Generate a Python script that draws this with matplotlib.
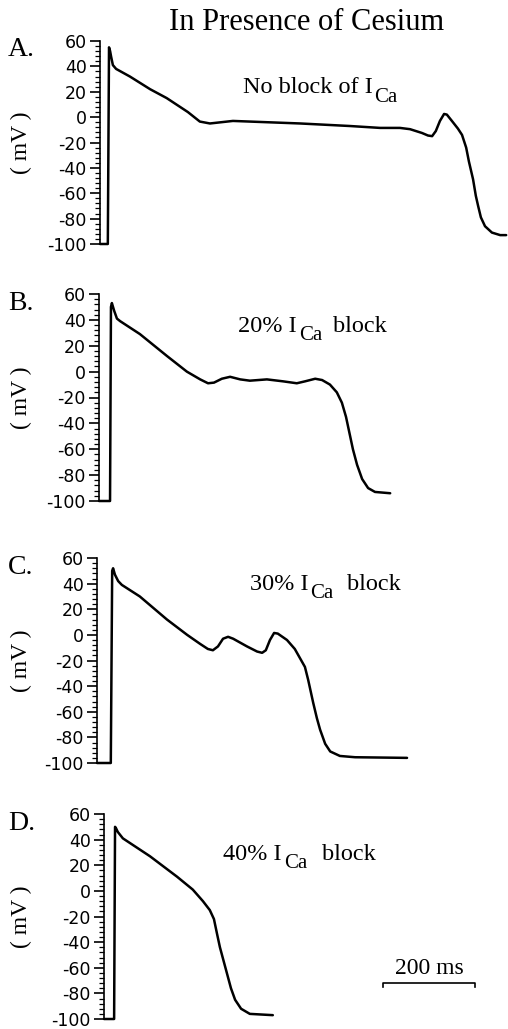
import matplotlib
matplotlib.use('Agg')
import matplotlib.pyplot as plt
from matplotlib.ticker import MultipleLocator

plt.rcParams['axes.unicode_minus'] = False

# Action potential traces (time in ms from the y axis, voltage in mV)
t_a = [0, 17, 19.6, 22, 24, 28, 35, 65, 109, 145, 191, 217, 239, 289, 435, 543, 609, 652, 674,
       700, 713, 722, 730, 739, 748, 754, 765, 778, 787, 796, 802, 811, 817, 822, 828, 837,
       852, 870, 883]
v_a = [-100, -100, 55, 52, 48, 41, 38, 32, 22, 15, 4, -3.5, -5, -3, -5, -7, -8.5, -8.5, -9.5,
       -12.5, -14.5, -15, -11, -3, 2.5, 2, -3, -9, -14, -24, -35, -49, -62, -70, -79, -86,
       -91, -93, -93]

t_b = [0, 24, 26, 28, 33, 39, 46, 89, 148, 191, 220, 237, 250, 267, 285, 307, 328, 365, 400,
       430, 448, 470, 485, 502, 517, 528, 537, 546, 552, 561, 572, 585, 600, 633]
v_b = [-100, -100, 50, 53, 47, 41, 39, 29, 12, 0, -6, -9, -8.5, -5.5, -4, -6, -7, -6, -7.5,
       -9, -7.5, -5.5, -6.5, -10, -16, -24, -35, -50, -60, -72, -83, -90, -93, -94]

t_c = [0, 30, 33, 35, 39, 46, 54, 93, 152, 196, 224, 241, 252, 263, 274, 285, 296, 326, 348,
       359, 367, 376, 385, 393, 413, 430, 441, 452, 459, 470, 478, 485, 496, 507, 528, 561, 674]
v_c = [-100, -100, 50, 52, 47, 42, 39, 30, 12, 0, -7, -11, -12, -9, -3, -1.5, -3, -9, -13,
       -14, -12, -4, 1.5, 1, -4, -11, -18, -25, -35, -53, -65, -74, -85, -91, -94.5, -95.5, -96]

t_d = [0, 22, 24, 26, 30, 41, 100, 159, 193, 215, 230, 239, 246, 252, 261, 267, 276, 285,
       298, 317, 367]
v_d = [-100, -100, 50, 49, 46, 41, 27, 11, 1, -8, -15, -22, -34, -44, -56, -64, -76, -85,
       -92, -96, -97]

labels = ['A.', 'B.', 'C.', 'D.']
note_pre = ['No block of I', '20% I', '30% I', '40% I']
note_post = ['', 'block', 'block', 'block']
traces = [(t_a, v_a), (t_b, v_b), (t_c, v_c), (t_d, v_d)]

W, H = 508, 1029
px_per_ms = 0.46
# axis x, top (60 mV), bottom (-100 mV) in pixels
boxes = [(100, 41, 244), (99, 294, 501), (97, 558, 763), (104, 814, 1019)]
# note pieces: (pre x, baseline), (Ca x, baseline), (post x)
note_pos = [(243, 93, 374, 102, None), (238, 332, 299, 340, 333),
            (250, 590, 310, 598, 347), (223, 860, 284, 868, 322)]

serif = 'Liberation Serif'
sans = 'DejaVu Sans'

fig = plt.figure(figsize=(W / 100, H / 100), dpi=100)
fig.text(307 / W, 1 - 22 / H, 'In Presence of Cesium', family=serif, fontsize=22,
         ha='center', va='center')


def fy(p):
    return 1 - p / H


for i, ((x0, top, bot), (t, v)) in enumerate(zip(boxes, traces)):
    ax = fig.add_axes([x0 / W, 1 - bot / H, (W - x0) / W, (bot - top) / H])
    ax.plot(t, v, color='black', lw=1.8, clip_on=False, solid_joinstyle='round',
            solid_capstyle='round')
    ax.set_xlim(0, (W - x0) / px_per_ms)
    ax.set_ylim(-100, 60)
    for s in ['top', 'right', 'bottom']:
        ax.spines[s].set_visible(False)
    ax.spines['left'].set_linewidth(1.2)
    ax.set_xticks([])
    ax.yaxis.set_major_locator(MultipleLocator(20))
    ax.yaxis.set_minor_locator(MultipleLocator(4))
    ax.tick_params(axis='y', which='major', length=7.5, width=1.2, pad=2, labelsize=12.5)
    ax.tick_params(axis='y', which='minor', length=3.5, width=0.9)
    for lab in ax.get_yticklabels():
        lab.set_family(sans)
    ax.set_ylabel('( mV )', family=serif, fontsize=17)
    ax.yaxis.set_label_coords(-(x0 - 32) / (W - x0), 0.5)
    fig.text(8 / W, fy(top + 9), labels[i], family=serif, fontsize=20,
             ha='left', va='center')
    px, pb, cx, cb, qx = note_pos[i]
    fig.text(px / W, fy(pb), note_pre[i], family=serif, fontsize=17.5, ha='left',
             va='baseline')
    fig.text(cx / W, fy(cb), 'Ca', family=serif, fontsize=15, ha='left', va='baseline')
    if qx is not None:
        fig.text(qx / W, fy(pb), note_post[i], family=serif, fontsize=17.5, ha='left',
                 va='baseline')
    if i == 3:
        # 200 ms scale bar
        xs = (383 - x0) / px_per_ms
        ax.plot([xs, xs, xs + 200, xs + 200], [-75, -72, -72, -75], color='black', lw=1.2,
                clip_on=False)
        ax.text(xs + 100, -68.5, '200 ms', family=serif, fontsize=17, ha='center',
                va='bottom')

fig.savefig('out.png', dpi=100)
